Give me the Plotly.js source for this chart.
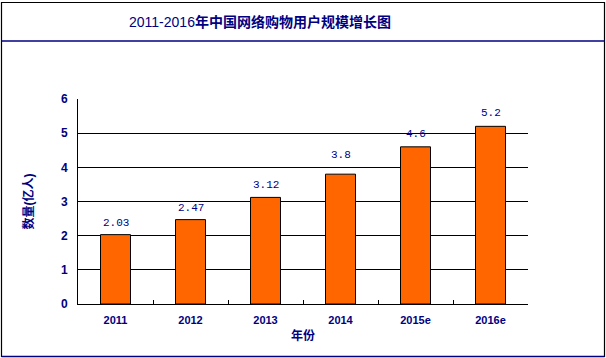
<!DOCTYPE html>
<html>
<head>
<meta charset="utf-8">
<script src="https://cdn.plot.ly/plotly-3.0.1.min.js"></script>
<style>html,body{margin:0;padding:0;background:#fff;}#chart{width:606px;height:358px;}</style>
</head>
<body>
<div id="chart"></div>
<script>
var categories = ["2011", "2012", "2013", "2014", "2015e", "2016e"];
var users = [2.03, 2.47, 3.12, 3.8, 4.6, 5.2];
var labels = ["2.03", "2.47", "3.12", "3.8", "4.6", "5.2"];
var yTicks = [0, 1, 2, 3, 4, 5, 6];

var labelShift = [4, 4, 4, 11, 5, 5];

var navy = "#000080";
var cjk = "'Liberation Sans', 'Noto Sans CJK SC', sans-serif";

var trace = {
  type: "bar",
  x: categories,
  y: users,
  marker: {color: "#FF6600", line: {color: "#000000", width: 1}},
  width: 0.4,
  hoverinfo: "x+y"
};

// category axis: annotation x given as the category's index
var annotations = categories.map(function (c, i) {
  return {
    xref: "x", yref: "y", x: i, y: users[i],
    text: labels[i], showarrow: false,
    yanchor: "bottom", yshift: labelShift[i],
    font: {family: "'Liberation Mono', monospace", size: 11, color: navy}
  };
});

var layout = {
  width: 606,
  height: 358,
  margin: {l: 78, r: 78, t: 99, b: 54},
  paper_bgcolor: "#ffffff",
  plot_bgcolor: "#ffffff",
  showlegend: false,
  title: {
    text: "2011-2016<b>年中国网络购物用户规模增长图</b>",
    font: {family: cjk, size: 14, color: navy},
    xref: "container", x: 0.429, xanchor: "center",
    yref: "container", y: 0.938, yanchor: "middle"
  },
  xaxis: {
    type: "category",
    categoryorder: "array", categoryarray: categories,
    range: [-0.5, categories.length - 0.5],
    showline: true, linecolor: "#000", linewidth: 1,
    ticks: "inside", ticklen: 4, tickcolor: "#000", tickson: "boundaries",
    showgrid: false,
    tickfont: {family: cjk, size: 11, color: navy, weight: "bold"},
    ticklabelstandoff: 6,
    title: {text: "<b>年份</b>", font: {family: cjk, size: 12, color: navy}, standoff: 6}
  },
  yaxis: {
    range: [0, 6],
    tickvals: yTicks,
    showline: true, linecolor: "#000", linewidth: 1,
    ticks: "inside", ticklen: 4, tickcolor: "#000",
    showgrid: true, gridcolor: "#000", gridwidth: 1,
    zeroline: false,
    tickfont: {family: cjk, size: 12, color: navy, weight: "bold"},
    ticklabelstandoff: 7,
    title: {text: "<b>数量(亿人)</b>", font: {family: cjk, size: 12, color: navy}, standoff: 24}
  },
  annotations: annotations,
  shapes: [
    {type: "rect", xref: "paper", yref: "paper", x0: -0.17, x1: 1.17, y0: -0.2561, y1: 1.4707,
     line: {color: "#000", width: 1.2}, layer: "below"},
    {type: "line", xref: "paper", yref: "paper", x0: -0.17, x1: 1.17, y0: -0.2561, y1: -0.2561,
     line: {color: navy, width: 1.5}},
    {type: "line", xref: "paper", yref: "paper", x0: -0.17, x1: 1.17, y0: 1.283, y1: 1.283,
     line: {color: navy, width: 1.5}}
  ]
};

Plotly.newPlot("chart", [trace], layout, {displayModeBar: false, staticPlot: true});
</script>
</body>
</html>
